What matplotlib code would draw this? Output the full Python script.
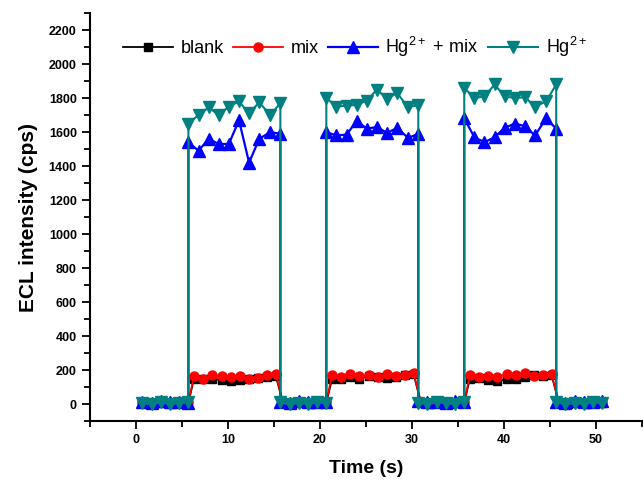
import numpy as np
import matplotlib
matplotlib.use('Agg')
import matplotlib.pyplot as plt
from matplotlib.ticker import MultipleLocator

plt.rcParams['font.family'] = ['Liberation Sans', 'DejaVu Sans']
plt.rcParams['mathtext.fontset'] = 'custom'
plt.rcParams['mathtext.rm'] = 'Liberation Sans'
plt.rcParams['mathtext.default'] = 'regular'

# time axis (s) for the Hg2+ curves (vertical edges -> repeated times)
t_hg = [0.7, 1.7, 2.7, 3.7, 4.7, 5.7,
        5.7, 6.8, 7.9, 9.0, 10.1, 11.2, 12.3, 13.4, 14.6, 15.7,
        15.7, 16.7, 17.7, 18.7, 19.7, 20.7,
        20.7, 21.8, 22.9, 24.0, 25.1, 26.2, 27.3, 28.4, 29.6, 30.7,
        30.7, 31.7, 32.7, 33.7, 34.7, 35.7,
        35.7, 36.8, 37.9, 39.0, 40.1, 41.2, 42.3, 43.4, 44.6, 45.7,
        45.7, 46.7, 47.7, 48.7, 49.7, 50.7]

hg = [5, 0, 10, 0, 5, 10,
      1650, 1700, 1745, 1700, 1750, 1780, 1710, 1775, 1700, 1770,
      10, 0, 5, 0, 10, 5,
      1800, 1750, 1755, 1760, 1785, 1850, 1795, 1830, 1745, 1760,
      5, 0, 10, 5, 0, 10,
      1860, 1800, 1810, 1880, 1810, 1800, 1805, 1750, 1780, 1880,
      10, 0, 5, 0, 10, 5]

hg_mix = [15, 5, 20, 10, 15, 5,
          1540, 1490, 1560, 1530, 1530, 1670, 1420, 1560, 1600, 1590,
          15, 5, 20, 10, 15, 10,
          1600, 1580, 1585, 1665, 1620, 1630, 1595, 1625, 1565, 1590,
          20, 10, 15, 5, 20, 10,
          1680, 1570, 1540, 1570, 1625, 1650, 1635, 1580, 1680, 1620,
          15, 5, 20, 10, 15, 20]

# time axis for blank / mix (slanted edges)
t_bm = [0.7, 1.7, 2.7, 3.7, 4.7, 5.7,
        6.3, 7.3, 8.3, 9.3, 10.3, 11.3, 12.3, 13.3, 14.3, 15.2,
        16.0, 17.0, 18.0, 19.0, 20.0, 20.7,
        21.3, 22.3, 23.3, 24.3, 25.3, 26.3, 27.3, 28.3, 29.3, 30.2,
        31.0, 32.0, 33.0, 34.0, 35.0, 35.7,
        36.3, 37.3, 38.3, 39.3, 40.3, 41.3, 42.3, 43.3, 44.3, 45.2,
        46.0, 47.0, 48.0, 49.0, 50.0, 50.7]

blank = [5, 0, 5, 0, 5, 5,
         150, 145, 150, 140, 135, 140, 150, 155, 160, 165,
         5, 0, 5, 0, 5, 5,
         145, 150, 160, 150, 165, 160, 155, 160, 170, 175,
         5, 0, 5, 0, 5, 5,
         150, 155, 140, 135, 145, 150, 160, 170, 165, 170,
         5, 0, 5, 0, 5, 5]

mix = [10, 5, 10, 5, 10, 10,
       165, 150, 170, 165, 160, 165, 150, 155, 170, 175,
       10, 5, 10, 5, 10, 10,
       170, 160, 175, 165, 170, 160, 175, 165, 170, 180,
       10, 5, 10, 5, 10, 10,
       170, 160, 165, 160, 175, 170, 180, 165, 170, 175,
       10, 5, 10, 5, 10, 10]

fig = plt.figure(figsize=(6.43, 4.84), dpi=100)
ax = fig.add_axes([0.14, 0.13, 0.858, 0.843])

ax.plot(t_bm, blank, color='black', marker='s', markersize=5.5, lw=1.3, label='blank')
ax.plot(t_bm, mix, color='red', marker='o', markersize=6.5, lw=1.3, label='mix')
ax.plot(t_hg, hg_mix, color='blue', marker='^', markersize=8, lw=1.6, label=r'Hg$^{2+}$ + mix')
ax.plot(t_hg, hg, color='#008080', marker='v', markersize=8, lw=1.5, label=r'Hg$^{2+}$')

ax.set_xlim(-5, 55)
ax.set_ylim(-100, 2300)
ax.xaxis.set_minor_locator(MultipleLocator(5))
ax.yaxis.set_minor_locator(MultipleLocator(100))
ax.set_xticks(np.arange(0, 51, 10))
ax.set_yticks(np.arange(0, 2201, 200))

for s in ['top', 'right']:
    ax.spines[s].set_visible(False)
for s in ['left', 'bottom']:
    ax.spines[s].set_linewidth(1.5)

ax.tick_params(which='major', direction='out', length=6, width=1.3, labelsize=9)
ax.tick_params(which='minor', direction='out', length=4, width=1.3)
for lab in ax.get_xticklabels() + ax.get_yticklabels():
    lab.set_fontweight('bold')

ax.set_xlabel('Time (s)', fontsize=14, fontweight='bold', labelpad=10)
ax.set_ylabel('ECL intensity (cps)', fontsize=15, fontweight='bold', labelpad=8)

ax.legend(loc='center', bbox_to_anchor=(0.48, 0.917), ncol=4, frameon=False,
          fontsize=13, numpoints=1, handlelength=2.8, handletextpad=0.4,
          columnspacing=0.5, borderpad=0)

fig.savefig('out.png', dpi=100)
